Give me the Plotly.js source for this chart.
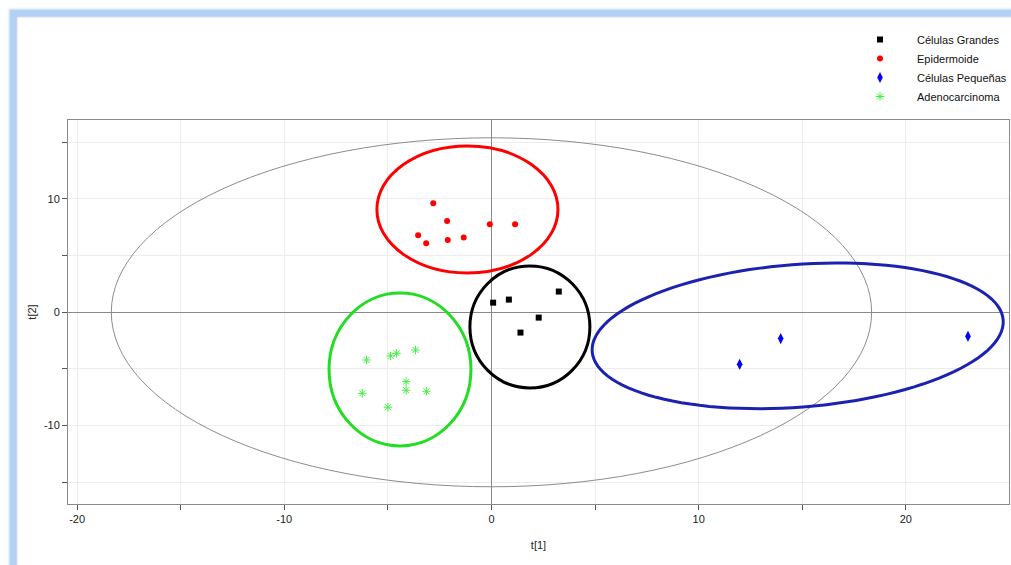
<!DOCTYPE html>
<html>
<head>
<meta charset="utf-8">
<script src="https://cdn.plot.ly/plotly-3.0.1.min.js"></script>
<style>
  html, body { margin: 0; padding: 0; background: #ffffff; width: 1011px; height: 565px; overflow: hidden; }
  #frame {
    position: absolute; left: 10px; top: 10px; width: 1010px; height: 560px;
    border-left: 6px solid #b3d0f5; border-top: 6px solid #b3d0f5;
    box-shadow: inset 1px 1px 2px rgba(120,160,220,0.6), -1px -1px 2px rgba(150,185,235,0.6);
  }
  #chart { position: absolute; left: 0; top: 0; width: 1011px; height: 565px; }
</style>
</head>
<body>
<div id="frame"></div>
<div id="chart"></div>
<script>
// ---- Data ----
const grandesX = [0.08, 0.84, 3.25, 2.28, 1.40];
const grandesY = [0.85, 1.12, 1.83, -0.47, -1.79];

const epidermoideX = [-2.81, -2.14, -3.54, -3.15, -2.11, -1.34, -0.08, 1.14];
const epidermoideY = [9.62, 8.06, 6.80, 6.09, 6.38, 6.59, 7.77, 7.77];

const pequenasX = [11.98, 13.96, 23.0];
const pequenasY = [-4.59, -2.32, -2.12];

const adenoX = [-6.03, -4.87, -4.58, -3.67, -4.12, -4.12, -3.14, -6.24, -5.00];
const adenoY = [-4.21, -3.85, -3.62, -3.33, -6.12, -6.88, -6.97, -7.15, -8.38];

const seriesNames = ["Células Grandes", "Epidermoide", "Células Pequeñas", "Adenocarcinoma"];

// axis ranges and ticks
const xRange = [-20.44, 24.98];
const yRange = [-16.92, 16.97];
const xTickVals = [-20, -15, -10, -5, 0, 5, 10, 15, 20];
const yTickVals = [-15, -10, -5, 0, 5, 10, 15];

// group ellipses: [x0, x1, y0, y1] in data units
const hotellingBox = [-18.35, 18.35, -15.4, 15.4];
const epiBox = [-5.53, 3.21, 3.47, 14.68];
const grandesBox = [-1.04, 4.75, -6.68, 4.09];
const adenoBox = [-7.84, -0.99, -11.80, 1.70];
// tilted ellipse for Células Pequeñas: center (data), semi-axes (px), tilt (deg)
const pequenasEllipse = { cx: 14.78, cy: -2.08, a: 206.1, b: 71.3, angle: 4.41 };

// ---- Layout geometry ----
const W = 1011, H = 565;
const margin = { l: 68, r: 2, t: 120, b: 61, autoexpand: false };
const plotW = W - margin.l - margin.r;
const plotH = H - margin.t - margin.b;
const sx = plotW / (xRange[1] - xRange[0]);
const sy = plotH / (yRange[1] - yRange[0]);

function tiltedEllipsePath(e) {
  const phi = e.angle * Math.PI / 180;
  let d = "";
  const n = 120;
  for (let i = 0; i <= n; i++) {
    const t = 2 * Math.PI * i / n;
    const dx = e.a * Math.cos(t) * Math.cos(phi) - e.b * Math.sin(t) * Math.sin(phi);
    const dy = e.a * Math.cos(t) * Math.sin(phi) + e.b * Math.sin(t) * Math.cos(phi);
    const x = e.cx + dx / sx;
    const y = e.cy + dy / sy;
    d += (i === 0 ? "M" : "L") + x.toFixed(4) + "," + y.toFixed(4);
  }
  return d + "Z";
}

function ellipseShape(box, color, width) {
  return { type: "circle", xref: "x", yref: "y",
    x0: box[0], x1: box[1], y0: box[2], y1: box[3],
    line: { color: color, width: width }, layer: "above" };
}

const traces = [
  { x: grandesX, y: grandesY, name: seriesNames[0], mode: "markers", type: "scatter",
    marker: { symbol: "square", size: 6, color: "#000000" } },
  { x: epidermoideX, y: epidermoideY, name: seriesNames[1], mode: "markers", type: "scatter",
    marker: { symbol: "circle", size: 6, color: "#ff0000" } },
  { x: pequenasX, y: pequenasY, name: seriesNames[2], mode: "markers", type: "scatter",
    marker: { symbol: "diamond-tall", size: 8, color: "#0000ff" } },
  { x: adenoX, y: adenoY, name: seriesNames[3], mode: "markers", type: "scatter",
    marker: { symbol: "asterisk-open", size: 7, color: "#44f044", line: { color: "#44f044", width: 1 } } }
];

const tickFont = { family: "Liberation Sans, Arial, sans-serif", size: 11, color: "#222222" };

const layout = {
  width: W, height: H,
  margin: margin,
  paper_bgcolor: "rgba(0,0,0,0)",
  plot_bgcolor: "#ffffff",
  showlegend: true,
  legend: {
    x: (843 - margin.l) / plotW, xanchor: "left",
    y: 1 + (120 - 25) / plotH, yanchor: "top",
    itemwidth: 64,
    font: { family: "Liberation Sans, Arial, sans-serif", size: 11, color: "#111111" },
    bgcolor: "rgba(0,0,0,0)", tracegroupgap: 0
  },
  xaxis: {
    range: xRange, autorange: false,
    tickvals: xTickVals,
    ticktext: xTickVals.map(v => (v % 10 === 0 ? String(v) : "")),
    ticks: "outside", ticklen: 5, tickcolor: "#555555",
    showgrid: true, gridcolor: "#ececec", gridwidth: 1,
    zeroline: true, zerolinecolor: "#8a8a8a", zerolinewidth: 1,
    showline: true, linecolor: "#8a8a8a", linewidth: 1, mirror: true,
    tickfont: tickFont,
    title: { text: "t[1]", font: tickFont, standoff: 17 },
    automargin: false
  },
  yaxis: {
    range: yRange, autorange: false,
    tickvals: yTickVals,
    ticktext: yTickVals.map(v => (v % 10 === 0 ? String(v) : "")),
    ticks: "outside", ticklen: 5, tickcolor: "#555555",
    showgrid: true, gridcolor: "#ececec", gridwidth: 1,
    zeroline: true, zerolinecolor: "#8a8a8a", zerolinewidth: 1,
    showline: true, linecolor: "#8a8a8a", linewidth: 1, mirror: true,
    tickfont: tickFont,
    title: { text: "t[2]", font: tickFont, standoff: 5 },
    automargin: false
  },
  shapes: [
    ellipseShape(hotellingBox, "#8c8c8c", 1),
    ellipseShape(epiBox, "#ff0000", 3),
    ellipseShape(grandesBox, "#000000", 3),
    ellipseShape(adenoBox, "#22dd22", 3),
    { type: "path", xref: "x", yref: "y", path: tiltedEllipsePath(pequenasEllipse),
      line: { color: "#1c22b0", width: 3 }, layer: "above" }
  ]
};

Plotly.newPlot("chart", traces, layout, { displayModeBar: false, staticPlot: true });
</script>
</body>
</html>
